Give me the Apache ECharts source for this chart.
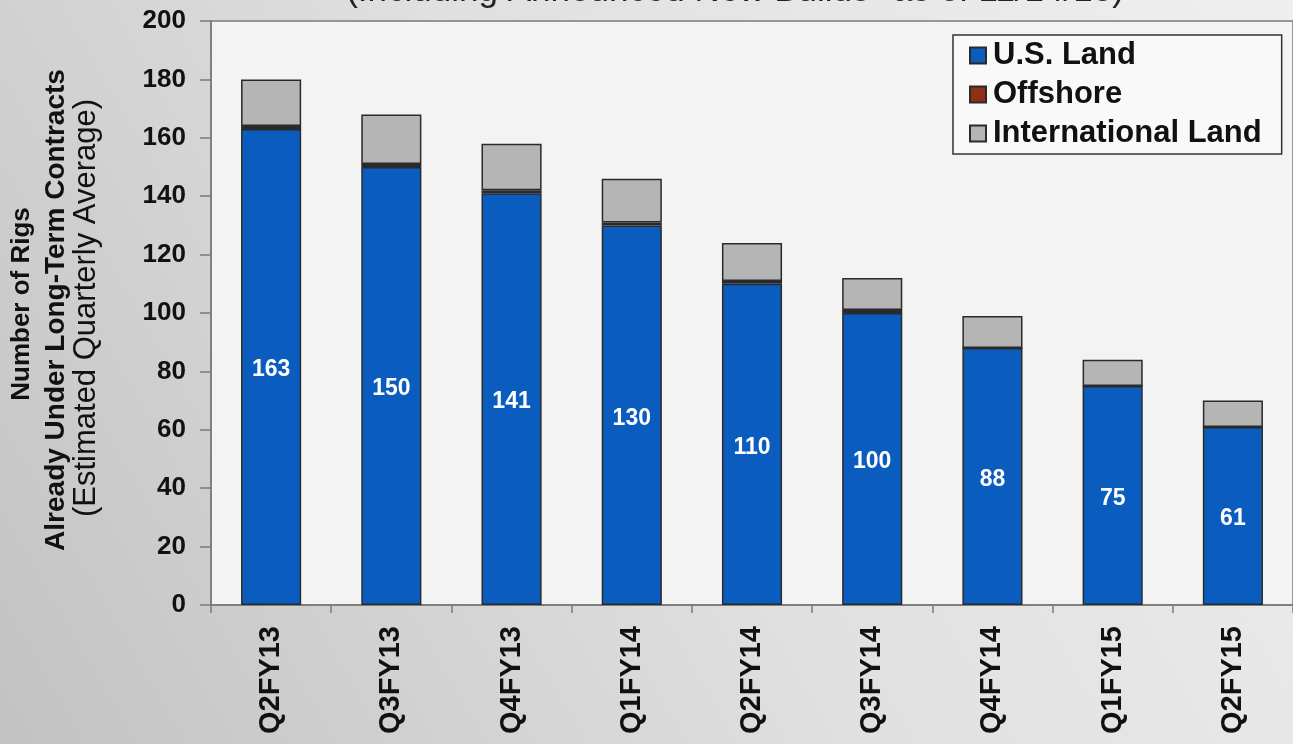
<!DOCTYPE html>
<html>
<head>
<meta charset="utf-8">
<script src="https://cdn.jsdelivr.net/npm/echarts@6/dist/echarts.min.js"></script>
<style>
html,body{margin:0;padding:0;background:#d0d0d0;}
#chart{width:1293px;height:744px;}
</style>
</head>
<body>
<div id="chart"></div>
<script>
const categories = ['Q2FY13','Q3FY13','Q4FY13','Q1FY14','Q2FY14','Q3FY14','Q4FY14','Q1FY15','Q2FY15'];
const usLand = [163, 150, 141, 130, 110, 100, 88, 75, 61];
const offshore = [1, 1, 1, 1, 1, 1, 0, 0, 0];
const internationalLand = [16, 17, 16, 15, 13, 11, 11, 9, 9];
const yTicks = {min: 0, max: 200, interval: 20};
const titleText = '(Including Announced New Builds* as of 11/14/13)';
const yNameLines = ['Number of Rigs', 'Already Under Long-Term Contracts', '(Estimated Quarterly Average)'];

const chart = echarts.init(document.getElementById('chart'));
const font = 'Liberation Sans, Arial, sans-serif';
const border = {borderColor: '#2a2a2a', borderWidth: 1.5};

chart.setOption({
  animation: false,
  backgroundColor: {
    type: 'linear', x: 0, y: 1, x2: 1, y2: 0,
    colorStops: [{offset: 0, color: '#c2c2c2'}, {offset: 0.5, color: '#e0e0e0'}, {offset: 1, color: '#efefef'}]
  },
  textStyle: {fontFamily: font},
  grid: {
    left: 211, top: 21, bottom: 139, right: -2,
    show: true, backgroundColor: '#f3f3f3', borderColor: '#7a7a7a', borderWidth: 1.5
  },
  legend: {
    orient: 'vertical', left: 953, top: 35,
    backgroundColor: '#f9f9f9', borderColor: '#333', borderWidth: 1.5,
    padding: [5, 20, 5, 16], itemGap: 8, itemWidth: 16, itemHeight: 16,
    icon: 'rect',
    textStyle: {fontFamily: font, fontSize: 31, fontWeight: 'bold', color: '#111', padding: [0, 0, 0, 2]},
    data: ['U.S. Land', 'Offshore', 'International Land']
  },
  xAxis: {
    type: 'category', data: categories,
    axisLine: {lineStyle: {color: '#7a7a7a', width: 1.5}},
    axisTick: {show: true, alignWithLabel: false, length: 8, lineStyle: {color: '#7a7a7a', width: 1.5}},
    axisLabel: {rotate: 90, margin: 21, fontSize: 29, fontWeight: 'bold', color: '#111', fontFamily: font}
  },
  yAxis: {
    type: 'value', min: yTicks.min, max: yTicks.max, interval: yTicks.interval,
    axisLine: {show: true, lineStyle: {color: '#7a7a7a', width: 1.5}},
    axisTick: {show: true, length: 11, lineStyle: {color: '#7a7a7a', width: 1.5}},
    splitLine: {show: false},
    axisLabel: {margin: 25, fontSize: 26, fontWeight: 'bold', color: '#111', fontFamily: font}
  },
  graphic: [
    {type: 'text', x: 735, y: -9, style: {text: titleText, fill: '#222', font: '35px ' + font, align: 'center', verticalAlign: 'middle'}},
    {type: 'text', x: 22, y: 304, rotation: Math.PI / 2, style: {text: yNameLines[0], fill: '#111', font: 'bold 26px ' + font, align: 'center', verticalAlign: 'middle'}},
    {type: 'text', x: 56, y: 310, rotation: Math.PI / 2, style: {text: yNameLines[1], fill: '#111', font: 'bold 28px ' + font, align: 'center', verticalAlign: 'middle'}},
    {type: 'text', x: 86, y: 308, rotation: Math.PI / 2, style: {text: yNameLines[2], fill: '#111', font: '31px ' + font, align: 'center', verticalAlign: 'middle'}}
  ],
  series: [
    {
      name: 'U.S. Land', type: 'bar', stack: 'rigs', barWidth: '50%', data: usLand,
      itemStyle: Object.assign({color: '#0a5dbe'}, border),
      label: {show: true, position: 'inside', offset: [0, 3], color: '#fff', fontSize: 23, fontWeight: 'bold', fontFamily: font}
    },
    {
      name: 'Offshore', type: 'bar', stack: 'rigs', data: offshore,
      itemStyle: Object.assign({color: '#8e2f16'}, border)
    },
    {
      name: 'International Land', type: 'bar', stack: 'rigs', data: internationalLand,
      itemStyle: Object.assign({color: '#b5b5b5'}, border)
    }
  ]
});
</script>
</body>
</html>
